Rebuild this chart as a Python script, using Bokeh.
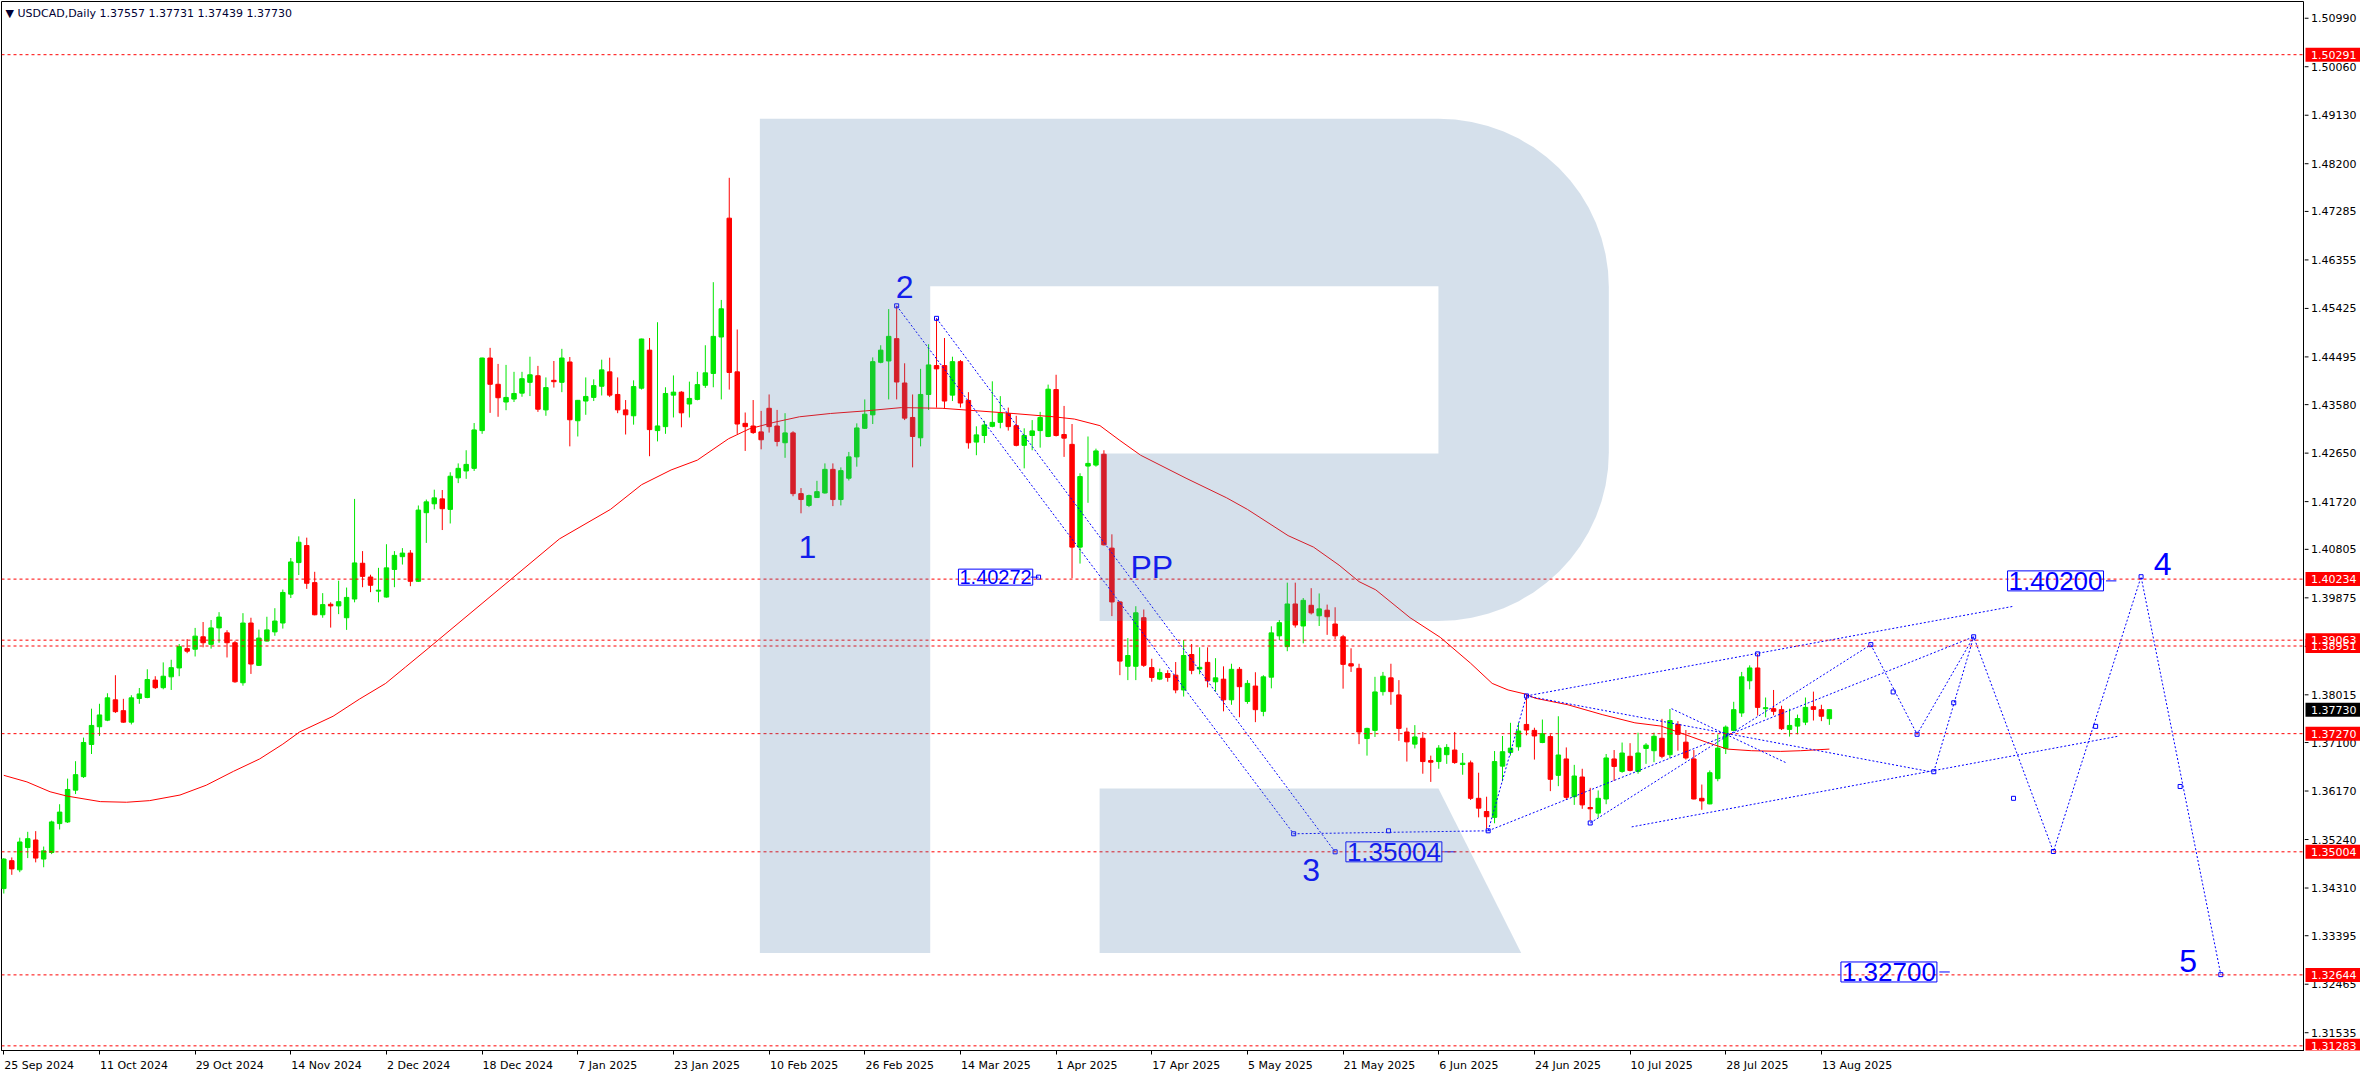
import math
from bokeh.plotting import figure
from bokeh.layouts import row
from bokeh.models import Range1d, FixedTicker, Label, ColumnDataSource, Span
from bokeh.embed import file_html
from bokeh.resources import INLINE
from bokeh.core.properties import value

# ---------------- data ----------------
opens = [
    1.34299, 1.34834, 1.34658, 1.35086, 1.35231, 1.34865, 1.34991, 1.35546, 1.35577, 1.36187,
    1.36446, 1.37063, 1.37403, 1.37529, 1.37919, 1.37711, 1.37491, 1.37944, 1.37963, 1.38297,
    1.38152, 1.38360, 1.38530, 1.38901, 1.38889, 1.39128, 1.38983, 1.39298, 1.39203, 1.39014,
    1.38246, 1.39392, 1.38580, 1.39046, 1.39222, 1.39392, 1.39946, 1.40551, 1.40878, 1.40167,
    1.39550, 1.39751, 1.39720, 1.39493, 1.39852, 1.40538, 1.40274, 1.40003, 1.39890, 1.40419,
    1.40664, 1.40733, 1.40192, 1.41508, 1.41678, 1.41773, 1.41571, 1.42176, 1.42308, 1.42358,
    1.43082, 1.44474, 1.43970, 1.43630, 1.43687, 1.43800, 1.44008, 1.44134, 1.43479, 1.44046,
    1.44008, 1.44398, 1.43271, 1.43649, 1.43718, 1.43932, 1.44209, 1.43775, 1.43479, 1.43366,
    1.43895, 1.44625, 1.43082, 1.43158, 1.43762, 1.43819, 1.43592, 1.43680, 1.43951, 1.44178,
    1.44877, 1.47156, 1.44209, 1.43221, 1.43170, 1.43057, 1.43510, 1.43170, 1.42849, 1.43038,
    1.41873, 1.41647, 1.41798, 1.41886, 1.42339, 1.41760, 1.42169, 1.42578, 1.43126, 1.43384,
    1.44392, 1.44417, 1.44845, 1.43995, 1.43334, 1.42944, 1.43775, 1.44329, 1.44329, 1.43762,
    1.44404, 1.43661, 1.42862, 1.42988, 1.43164, 1.43240, 1.43410, 1.43177, 1.42799, 1.42988,
    1.43082, 1.42969, 1.43869, 1.43007, 1.42818, 1.40847, 1.42402, 1.42421, 1.42629, 1.40828,
    1.39796, 1.38562, 1.38562, 1.39494, 1.38537, 1.38316, 1.38423, 1.38392, 1.38108, 1.38788,
    1.38511, 1.38637, 1.38265, 1.38315, 1.37919, 1.38504, 1.37887, 1.38183, 1.37698, 1.38353,
    1.39146, 1.38939, 1.39757, 1.39335, 1.39732, 1.39531, 1.39638, 1.39373, 1.39128, 1.38611,
    1.38523, 1.37176, 1.37333, 1.38076, 1.38341, 1.38013, 1.37302, 1.37069, 1.37182, 1.36754,
    1.36735, 1.36867, 1.36956, 1.36678, 1.36710, 1.36030, 1.35778, 1.35665, 1.36647, 1.36911,
    1.37018, 1.37447, 1.37333, 1.37100, 1.37214, 1.36471, 1.36785, 1.36061, 1.36439, 1.35854,
    1.35747, 1.36017, 1.36785, 1.36546, 1.36836, 1.36546, 1.36987, 1.36943, 1.37182, 1.36867,
    1.37447, 1.37107, 1.36785, 1.36030, 1.35923, 1.36408, 1.36987, 1.37333, 1.37667, 1.38284,
    1.38530, 1.37749, 1.37749, 1.37730, 1.37352, 1.37415, 1.37491, 1.37787, 1.37730, 1.37557,
]
highs = [
    1.34884, 1.34897, 1.35275, 1.35388, 1.35401, 1.35105, 1.35602, 1.35917, 1.36408, 1.36742,
    1.37195, 1.37749, 1.37843, 1.38045, 1.38391, 1.37938, 1.38007, 1.38146, 1.38505, 1.38372,
    1.38637, 1.38687, 1.38989, 1.39084, 1.39298, 1.39411, 1.39449, 1.39600, 1.39254, 1.39052,
    1.39581, 1.39493, 1.39266, 1.39512, 1.39676, 1.40034, 1.40639, 1.41054, 1.41029, 1.40374,
    1.39965, 1.39789, 1.40204, 1.40072, 1.41772, 1.40771, 1.40318, 1.40450, 1.40903, 1.40771,
    1.40828, 1.40790, 1.41646, 1.41760, 1.41949, 1.41943, 1.42283, 1.42453, 1.42705, 1.43227,
    1.44480, 1.44669, 1.44361, 1.44342, 1.44209, 1.44209, 1.44499, 1.44323, 1.44102, 1.44417,
    1.44650, 1.44493, 1.43670, 1.44102, 1.44065, 1.44442, 1.44480, 1.44102, 1.43668, 1.44046,
    1.44845, 1.44858, 1.45160, 1.43913, 1.44140, 1.43838, 1.44021, 1.44209, 1.44719, 1.45928,
    1.45588, 1.47930, 1.45021, 1.43429, 1.43668, 1.43460, 1.43775, 1.43479, 1.43416, 1.43070,
    1.41980, 1.41854, 1.42119, 1.42453, 1.42453, 1.42377, 1.42673, 1.43221, 1.43680, 1.44486,
    1.44719, 1.45412, 1.45475, 1.44373, 1.43775, 1.44266, 1.44738, 1.45235, 1.44858, 1.44499,
    1.44436, 1.43819, 1.43164, 1.43271, 1.44027, 1.43743, 1.43523, 1.43366, 1.43126, 1.43284,
    1.43441, 1.43964, 1.44153, 1.43555, 1.43208, 1.42264, 1.42969, 1.42736, 1.42705, 1.41093,
    1.39808, 1.39103, 1.39714, 1.39651, 1.38707, 1.38518, 1.38486, 1.38644, 1.39065, 1.38989,
    1.38926, 1.38926, 1.38718, 1.38561, 1.38611, 1.38548, 1.38297, 1.38448, 1.38391, 1.39329,
    1.39449, 1.40166, 1.40166, 1.39871, 1.40060, 1.39959, 1.39745, 1.39694, 1.39165, 1.38907,
    1.38611, 1.37384, 1.38360, 1.38454, 1.38611, 1.38297, 1.37384, 1.37434, 1.37302, 1.36849,
    1.37050, 1.37069, 1.37302, 1.36899, 1.36754, 1.36521, 1.36061, 1.36937, 1.37226, 1.37478,
    1.37478, 1.38013, 1.37384, 1.37541, 1.37258, 1.37604, 1.37006, 1.36672, 1.36597, 1.36231,
    1.36181, 1.36880, 1.36956, 1.37100, 1.37088, 1.37289, 1.37088, 1.37289, 1.37554, 1.37743,
    1.37510, 1.37340, 1.36956, 1.36294, 1.36565, 1.37258, 1.37428, 1.37881, 1.38454, 1.38580,
    1.38800, 1.37963, 1.38108, 1.37806, 1.37749, 1.37636, 1.37963, 1.38076, 1.37824, 1.37731,
]
lows = [
    1.34204, 1.34563, 1.34614, 1.34884, 1.34802, 1.34708, 1.34960, 1.35432, 1.35558, 1.36112,
    1.36421, 1.36880, 1.37227, 1.37510, 1.37667, 1.37480, 1.37447, 1.37843, 1.37950, 1.38127,
    1.38121, 1.38108, 1.38372, 1.38813, 1.38750, 1.38926, 1.38901, 1.39014, 1.38731, 1.38246,
    1.38190, 1.38416, 1.38568, 1.39040, 1.39147, 1.39285, 1.39871, 1.40312, 1.40047, 1.39540,
    1.39493, 1.39304, 1.39562, 1.39260, 1.39789, 1.40079, 1.39984, 1.39789, 1.39880, 1.40079,
    1.40513, 1.40098, 1.40179, 1.40928, 1.41571, 1.41175, 1.41301, 1.42075, 1.42157, 1.42308,
    1.43020, 1.43422, 1.43347, 1.43473, 1.43630, 1.43731, 1.43744, 1.43441, 1.43366, 1.43907,
    1.43819, 1.42780, 1.42969, 1.43385, 1.43649, 1.43756, 1.43725, 1.43416, 1.43007, 1.43196,
    1.43869, 1.42591, 1.42875, 1.43020, 1.43334, 1.43145, 1.43334, 1.43662, 1.43901, 1.43913,
    1.43680, 1.43869, 1.43019, 1.42692, 1.43019, 1.42723, 1.43044, 1.42780, 1.42560, 1.41823,
    1.41496, 1.41615, 1.41792, 1.41873, 1.41634, 1.41647, 1.42125, 1.42390, 1.43114, 1.43208,
    1.44373, 1.43680, 1.43680, 1.43284, 1.42377, 1.42780, 1.43479, 1.43523, 1.43510, 1.43649,
    1.43523, 1.42736, 1.42610, 1.42843, 1.43145, 1.43126, 1.43082, 1.42780, 1.42358, 1.42705,
    1.42755, 1.42956, 1.42969, 1.42578, 1.40249, 1.40532, 1.41697, 1.42390, 1.40879, 1.39525,
    1.38392, 1.38297, 1.38297, 1.38549, 1.38266, 1.38297, 1.38266, 1.38045, 1.37982, 1.38410,
    1.38410, 1.38158, 1.38076, 1.37698, 1.37824, 1.37585, 1.37843, 1.37491, 1.37604, 1.38139,
    1.39065, 1.38851, 1.39304, 1.39002, 1.39556, 1.39335, 1.39165, 1.39084, 1.38133, 1.38454,
    1.37069, 1.36849, 1.37207, 1.38001, 1.37824, 1.37132, 1.36735, 1.36987, 1.36502, 1.36345,
    1.36597, 1.36691, 1.36691, 1.36483, 1.35998, 1.35665, 1.35444, 1.35552, 1.36357, 1.36849,
    1.36943, 1.37239, 1.36773, 1.37088, 1.36168, 1.36263, 1.35998, 1.35904, 1.35829, 1.35602,
    1.35665, 1.35917, 1.36364, 1.36521, 1.36546, 1.36502, 1.36691, 1.36723, 1.36798, 1.36798,
    1.36943, 1.36773, 1.36010, 1.35810, 1.35915, 1.36357, 1.36880, 1.37321, 1.37592, 1.38120,
    1.37617, 1.37585, 1.37623, 1.37340, 1.37214, 1.37258, 1.37434, 1.37522, 1.37510, 1.37439,
]
closes = [
    1.34865, 1.34677, 1.35193, 1.35256, 1.34884, 1.35023, 1.35577, 1.35766, 1.36200, 1.36484,
    1.37101, 1.37428, 1.37629, 1.37957, 1.37692, 1.37491, 1.37957, 1.38032, 1.38309, 1.38152,
    1.38372, 1.38536, 1.38939, 1.38851, 1.39140, 1.39014, 1.39298, 1.39506, 1.39014, 1.38265,
    1.39392, 1.38605, 1.39103, 1.39260, 1.39430, 1.39978, 1.40563, 1.40941, 1.40154, 1.39550,
    1.39745, 1.39720, 1.39801, 1.39883, 1.40544, 1.40286, 1.40116, 1.40022, 1.40450, 1.40689,
    1.40733, 1.40192, 1.41558, 1.41716, 1.41792, 1.41584, 1.42207, 1.42358, 1.42434, 1.43095,
    1.44474, 1.43970, 1.43712, 1.43718, 1.43794, 1.44077, 1.44153, 1.43492, 1.43907, 1.44020,
    1.44474, 1.43290, 1.43662, 1.43737, 1.43945, 1.44247, 1.43762, 1.43479, 1.43385, 1.43926,
    1.44839, 1.43101, 1.43171, 1.43794, 1.43819, 1.43422, 1.43699, 1.43964, 1.44190, 1.44889,
    1.45418, 1.44197, 1.43208, 1.43158, 1.43044, 1.42906, 1.43158, 1.42874, 1.43038, 1.41873,
    1.41760, 1.41836, 1.41911, 1.42339, 1.41760, 1.42314, 1.42578, 1.43133, 1.43397, 1.44404,
    1.44625, 1.44889, 1.44014, 1.43321, 1.42969, 1.43775, 1.44341, 1.44266, 1.43649, 1.44404,
    1.43611, 1.42849, 1.43000, 1.43189, 1.43240, 1.43416, 1.43158, 1.42799, 1.42988, 1.43076,
    1.43334, 1.43876, 1.42988, 1.42937, 1.40847, 1.42201, 1.42453, 1.42692, 1.40891, 1.39796,
    1.38662, 1.38769, 1.39588, 1.38581, 1.38348, 1.38442, 1.38348, 1.38108, 1.38769, 1.38485,
    1.38542, 1.38284, 1.38341, 1.37919, 1.38504, 1.38171, 1.38234, 1.37730, 1.38360, 1.39203,
    1.39398, 1.39757, 1.39354, 1.39827, 1.39587, 1.39663, 1.39512, 1.39146, 1.38599, 1.38567,
    1.37302, 1.37371, 1.38070, 1.38372, 1.38076, 1.37371, 1.37113, 1.37207, 1.36735, 1.36723,
    1.36993, 1.37006, 1.36716, 1.36704, 1.36030, 1.35841, 1.35677, 1.36735, 1.36924, 1.36993,
    1.37321, 1.37340, 1.37226, 1.37270, 1.36395, 1.36861, 1.36049, 1.36458, 1.35904, 1.35829,
    1.36030, 1.36804, 1.36641, 1.36899, 1.36565, 1.36899, 1.37050, 1.37220, 1.36836, 1.37522,
    1.37258, 1.36804, 1.36017, 1.35980, 1.36521, 1.36993, 1.37396, 1.37730, 1.38360, 1.38530,
    1.37774, 1.37768, 1.37699, 1.37365, 1.37428, 1.37560, 1.37774, 1.37736, 1.37604, 1.37730,
]

# moving average (red line), read at bar positions
ma_x = [0, 2.9, 5.8, 7.9, 12.1, 15.4, 18.3, 22.1, 25.4, 28.8, 32.1, 35, 37.1, 41.3, 44.6,
        47.9, 50.4, 53.3, 69.7, 76.1, 80, 83.7, 87, 90.9, 93.5, 96.6, 99.8, 103.7, 108.1,
        112.6, 117.7, 122.2, 126.6, 131.7, 134.3, 137.5, 140, 142.6, 148.3, 153.4, 156,
        161.1, 164.3, 167.5, 170, 172.1, 176.4, 180.2, 184, 186.7, 188.7, 190.8, 192.1,
        196.2, 200.5, 204.6, 207.9, 210.8, 213.7, 216.2, 219.2, 222.9, 225.4, 229]
ma_y = [1.36471, 1.36345, 1.36156, 1.36074, 1.35967, 1.35955, 1.35986, 1.36093, 1.36282,
        1.36547, 1.36786, 1.37069, 1.37302, 1.37604, 1.37932, 1.38234, 1.38549, 1.38914,
        1.41005, 1.41571, 1.42044, 1.42327, 1.42516, 1.42925, 1.43114, 1.43240, 1.43347,
        1.43410, 1.43460, 1.43523, 1.43510, 1.43460, 1.43410, 1.43347, 1.43303, 1.43177,
        1.42893, 1.42610, 1.42169, 1.41792, 1.41571, 1.41068, 1.40847, 1.40501, 1.40186,
        1.40028, 1.39494, 1.39116, 1.38620, 1.38234, 1.38108, 1.38032, 1.37950, 1.37824,
        1.37636, 1.37478, 1.37415, 1.37258, 1.37100, 1.36974, 1.36943, 1.36930, 1.36943,
        1.36974]

date_ticks = list(range(0, 229, 12))
date_labels = ["25 Sep 2024", "11 Oct 2024", "29 Oct 2024", "14 Nov 2024", "2 Dec 2024",
               "18 Dec 2024", "7 Jan 2025", "23 Jan 2025", "10 Feb 2025", "26 Feb 2025",
               "14 Mar 2025", "1 Apr 2025", "17 Apr 2025", "5 May 2025", "21 May 2025",
               "6 Jun 2025", "24 Jun 2025", "10 Jul 2025", "28 Jul 2025", "13 Aug 2025"]
price_ticks = [1.50990, 1.50060, 1.49130, 1.48200, 1.47285, 1.46355, 1.45425, 1.44495,
               1.43580, 1.42650, 1.41720, 1.40805, 1.39875, 1.38945, 1.38015, 1.37100,
               1.36170, 1.35240, 1.34310, 1.33395, 1.32465, 1.31535]
level_prices = [1.50291, 1.40234, 1.39063, 1.38951, 1.37270, 1.35004, 1.32644, 1.31283]
last_price = 1.37730

# wave-analysis drawings (bar index, price)
wave_lines = [
    [(112, 1.45475), (161.8, 1.35350)],
    [(117, 1.45235), (167.0, 1.35004)],
    [(161.8, 1.35350), (186.2, 1.35407)],
    [(186.2, 1.35407), (191.0, 1.37994)],
    [(191.0, 1.37994), (252.1, 1.39713)],
    [(191.0, 1.37994), (241.7, 1.36540)],
    [(204.2, 1.35482), (265.2, 1.37220)],
    [(199.0, 1.35557), (234.2, 1.38977)],
    [(186.2, 1.35407), (247.1, 1.39128)],
    [(209.2, 1.37749), (223.6, 1.36710)],
    [(234.2, 1.38977), (240.0, 1.37258), (247.1, 1.39128), (257.1, 1.35010),
     (268.1, 1.40280), (278.1, 1.32649)],
    [(242.1, 1.36540), (247.1, 1.39128)],
]
wave_markers = [(112, 1.45475), (117, 1.45235), (161.8, 1.35350), (167.0, 1.35004),
                (173.7, 1.35407), (186.2, 1.35407), (191.0, 1.37994), (199.0, 1.35557),
                (220, 1.38800), (129.8, 1.40272), (234.2, 1.38977), (237.0, 1.38070),
                (240.0, 1.37258), (242.1, 1.36540), (244.6, 1.37862), (247.1, 1.39128),
                (252.1, 1.36030), (257.1, 1.35010), (262.4, 1.37410), (268.1, 1.40280),
                (273.0, 1.36257), (278.1, 1.32649)]
wave_names = ["1", "2", "PP", "3", "4", "5"]
wave_name_x = [100.8, 113.0, 144.0, 164.0, 270.8, 274.0]
wave_name_y = [1.40847, 1.45833, 1.40469, 1.34651, 1.40525, 1.32913]
box_values = [1.40272, 1.35004, 1.40200, 1.32700]
box_left = [119.6, 168.2, 251.2, 230.3]
box_sizes = ["20px", "26px", "26px", "26px"]
box_links = [(128.8, 129.8), (180.7, 182.1), (263.7, 265.0), (242.8, 244.1)]

# ---------------- layout constants ----------------
W_MAIN, W_SIDE, H = 2304, 56, 1074
BTM = 19
XR = (-0.29, 288.6)
YR = (1.31194, 1.51311)
FONT = "DejaVu Sans"

# ---------------- main chart ----------------
p = figure(width=W_MAIN, height=H, output_backend="svg", toolbar_location=None,
           x_range=Range1d(*XR), y_range=Range1d(*YR), y_axis_location=None,
           min_border_left=1, min_border_top=1, min_border_right=0, min_border_bottom=BTM)
p.xgrid.visible = False
p.ygrid.visible = False
p.outline_line_color = "black"
p.outline_line_alpha = 1.0
p.background_fill_color = "white"
p.border_fill_color = "white"

# date axis: tick marks on the bars (minor ticks), labels left-aligned on each tick
EM = {str(d): 0.636 for d in range(10)}
EM.update({" ": 0.318, "A": 0.684, "D": 0.770, "F": 0.575, "J": 0.295, "M": 0.863,
           "N": 0.748, "O": 0.787, "S": 0.635, "a": 0.613, "b": 0.635, "c": 0.550,
           "e": 0.615, "g": 0.635, "l": 0.278, "n": 0.634, "o": 0.612, "p": 0.635,
           "r": 0.411, "t": 0.392, "u": 0.634, "v": 0.592, "y": 0.592})
px_per_bar = (W_MAIN - 1) / (XR[1] - XR[0])
label_pos = [round(t + (sum(EM.get(ch, 0.6) for ch in s) * 11 / 2 + 0.5) / px_per_bar, 3)
             for t, s in zip(date_ticks, date_labels)]
ax = p.xaxis[0]
ax.ticker = FixedTicker(ticks=label_pos, minor_ticks=date_ticks)
ax.major_label_overrides = {pos: s for pos, s in zip(label_pos, date_labels)}
ax.major_label_text_font = FONT
ax.major_label_text_font_size = "11px"
ax.major_label_text_color = "black"
ax.major_label_standoff = 4
ax.major_tick_in = 0
ax.major_tick_out = 0
ax.major_tick_line_color = None
ax.minor_tick_in = 0
ax.minor_tick_out = 4
ax.minor_tick_line_color = "black"
ax.axis_line_color = "black"

# candles
n = len(opens)
up_col, dn_col = "#00e600", "#ff0000"
cols = [up_col if c >= o else dn_col for o, c in zip(opens, closes)]
src = ColumnDataSource(dict(
    x=list(range(n)),
    hi=[max(h, o, c) for h, o, c in zip(highs, opens, closes)],
    lo=[min(l, o, c) for l, o, c in zip(lows, opens, closes)],
    top=[max(o, c) for o, c in zip(opens, closes)],
    bot=[min(o, c) for o, c in zip(opens, closes)],
    col=cols))
p.segment(x0="x", y0="hi", x1="x", y1="lo", line_color="col", line_width=1, source=src)
p.vbar(x="x", width=0.56, top="top", bottom="bot", fill_color="col", line_color="col",
       line_width=1, source=src)

# moving average
p.line(ma_x, ma_y, line_color="#ff0000", line_width=1)

# horizontal levels
for lv in level_prices:
    p.add_layout(Span(location=lv, dimension="width", line_color="#ff0000",
                      line_dash="3 3", line_width=1))

# wave drawings
p.multi_line([[pt[0] for pt in ln] for ln in wave_lines],
             [[pt[1] for pt in ln] for ln in wave_lines],
             line_color="#0000ff", line_dash="2 2", line_width=1)
p.scatter([m[0] for m in wave_markers], [m[1] for m in wave_markers], marker="square",
          size=4, line_color="#0000ff", fill_color=None, line_width=1)
p.text(wave_name_x, wave_name_y, text=wave_names, text_font=value("Liberation Sans"),
       text_font_size="32px", text_color="#0000ff", text_align="center",
       text_baseline="middle")
for v, xl, fs, (a, b) in zip(box_values, box_left, box_sizes, box_links):
    p.segment(x0=[a], y0=[v], x1=[b], y1=[v], line_color="#0000ff", line_width=1)
    p.add_layout(Label(x=xl + 0.15, y=v, text=f"{v:.5f}", text_font="Liberation Sans",
                       text_font_size=fs, text_color="#0000ff", text_align="left",
                       text_baseline="middle", border_line_color="#0000ff",
                       border_line_width=1, padding=1))

# header
p.add_layout(Label(x=4, y=YR[1], x_units="screen", y_units="data", y_offset=-5,
                   text="\u25BC USDCAD,Daily  %.5f %.5f %.5f %.5f" % (opens[-1], highs[-1], lows[-1], closes[-1]),
                   text_font=FONT, text_font_size="11px", text_color="#000033",
                   text_align="left", text_baseline="top"))

# watermark logo (translucent overlay)
def arc(cx, cy, rx, ry, a0, a1, k=16):
    return [(cx + rx * math.cos(math.radians(a0 + (a1 - a0) * t / k)),
             cy + ry * math.sin(math.radians(a0 + (a1 - a0) * t / k))) for t in range(k + 1)]

rx, ry = 21.375, 0.0323
body = [(94.84, 1.49063), (179.96, 1.49063)]
body += arc(179.96, 1.45833, rx, ry, 90, 0)
body += arc(179.96, 1.42660, rx, ry, 0, -90)
body += [(137.46, 1.39430), (137.46, 1.42641), (179.96, 1.42641), (179.96, 1.45852),
         (116.21, 1.45852), (116.21, 1.33064), (94.84, 1.33064)]
leg = [(137.46, 1.36219), (179.96, 1.36219), (190.34, 1.33064), (137.46, 1.33064)]
p.patches([[q[0] for q in body], [q[0] for q in leg]],
          [[q[1] for q in body], [q[1] for q in leg]],
          fill_color="#4f7dab", fill_alpha=0.24, line_color=None, level="overlay")

# ---------------- price scale (right) ----------------
s = figure(width=W_SIDE, height=H, output_backend="svg", toolbar_location=None,
           x_range=Range1d(0, W_SIDE), y_range=p.y_range, x_axis_location=None,
           y_axis_location=None, min_border_left=0, min_border_right=0,
           min_border_top=1, min_border_bottom=BTM)
s.xgrid.visible = False
s.ygrid.visible = False
s.outline_line_color = None
s.background_fill_color = "white"
s.border_fill_color = "white"
nt = len(price_ticks)
s.segment(x0=[0] * nt, y0=price_ticks, x1=[4] * nt, y1=price_ticks,
          line_color="black", line_width=1)
s.text([6.5] * nt, price_ticks, text=[f"{t:.5f}" for t in price_ticks],
       text_font=value(FONT), text_font_size="11px", text_color="black",
       text_align="left", text_baseline="middle")
tag_prices = level_prices + [last_price]
tag_colors = ["#ff0000"] * len(level_prices) + ["#000000"]
s.rect(x=[28.5] * len(tag_prices), y=tag_prices, width=55, height=14,
       height_units="screen", fill_color=tag_colors, line_color=None)
s.text([6.5] * len(tag_prices), tag_prices, text=[f"{t:.5f}" for t in tag_prices],
       text_font=value(FONT), text_font_size="11px", text_color="white",
       text_align="left", text_baseline="middle")

layout = row(p, s, spacing=0)
open("out.html", "w").write(file_html(layout, INLINE))
